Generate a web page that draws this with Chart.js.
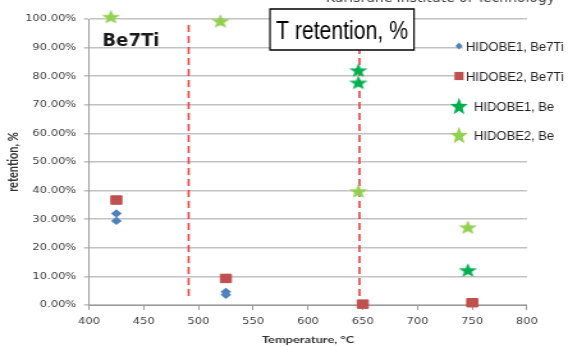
<!DOCTYPE html>
<html>
<head>
<meta charset="utf-8">
<title>T retention</title>
<script src="https://cdn.jsdelivr.net/npm/chart.js@4.4.1/dist/chart.umd.min.js"></script>
<style>
    html, body { margin: 0; padding: 0; background: #fff; }
    #wrap { position: relative; width: 568px; height: 347px; overflow: hidden; }
    /* the plot in the picture is stretched sideways, so is this canvas */
    #stretch { position: absolute; left: 0; top: 0; width: 444px; height: 347px;
               transform: scaleX(1.279279); transform-origin: 0 0; }
    canvas { display: block; }
</style>
</head>
<body>
<div id="wrap">
    <div id="stretch"><canvas id="chart" width="444" height="347"></canvas></div>
</div>
<script>
const xTicks = [400, 450, 500, 550, 600, 650, 700, 750, 800];
const yTicks = [0, 10, 20, 30, 40, 50, 60, 70, 80, 90, 100];
const dividerTemps = [491, 647];

const seriesNames = ["HIDOBE1, Be7Ti", "HIDOBE2, Be7Ti", "HIDOBE1, Be", "HIDOBE2, Be"];

const hidobe1Be7TiTemp = [425, 425, 525, 525];
const hidobe1Be7TiRet = [32.0, 29.4, 4.6, 3.6];

const hidobe2Be7TiTemp = [425, 525, 650, 750];
const hidobe2Be7TiRet = [36.7, 9.3, 0.3, 0.8];

const hidobe1BeTemp = [646, 646, 746];
const hidobe1BeRet = [82.1, 77.8, 12.2];

const hidobe2BeTemp = [420, 520, 646, 746];
const hidobe2BeRet = [100.8, 99.3, 39.8, 27.2];

const STRETCH = 568 / 444;

const BLUE = "#4f81bd";
const RED = "#c0504d";
const DARK_GREEN = "#00b050";
const LIGHT_GREEN = "#92d050";

function toPoints(xs, ys) {
    return xs.map((x, i) => ({ x: x, y: ys[i] }));
}

function starPath(g, cx, cy, R) {
    const r = R * 0.42;
    g.beginPath();
    for (let i = 0; i < 10; i++) {
        const a = -Math.PI / 2 + i * Math.PI / 5;
        const rr = i % 2 ? r : R;
        g.lineTo(cx + rr * Math.cos(a), cy + rr * Math.sin(a));
    }
    g.closePath();
}

function makeStar(color, R) {
    const size = Math.ceil(R * 2) + 2;
    const c = document.createElement("canvas");
    c.width = size;
    c.height = size;
    const g = c.getContext("2d");
    starPath(g, size / 2, size / 2 + R * 0.095, R);
    g.fillStyle = color;
    g.fill();
    return c;
}

function fitText(ctx, text, x, y, width) {
    const w = ctx.measureText(text).width;
    ctx.save();
    ctx.translate(x, y);
    ctx.scale(width / w, 1);
    ctx.fillText(text, 0, 0);
    ctx.restore();
}

function drawLegendMarker(ctx, kind, color, cx, cy) {
    ctx.fillStyle = color;
    if (kind === "diamond") {
        ctx.beginPath();
        ctx.moveTo(cx, cy - 3.4);
        ctx.lineTo(cx + 3.6, cy);
        ctx.lineTo(cx, cy + 3.4);
        ctx.lineTo(cx - 3.6, cy);
        ctx.closePath();
        ctx.fill();
    } else if (kind === "square") {
        ctx.fillRect(cx - 4.6, cy - 4.1, 9.2, 8.2);
    } else {
        starPath(ctx, cx, cy + 0.9, 9.2);
        ctx.fill();
    }
}

const overlayPlugin = {
    id: "overlay",

    beforeDatasetsDraw(chart) {
        const { ctx, scales: { x, y } } = chart;

        ctx.save();
        ctx.strokeStyle = "#f23b3b";
        ctx.lineWidth = 1.6;
        ctx.setLineDash([7, 4]);
        dividerTemps.forEach(t => {
            const px = x.getPixelForValue(t);
            ctx.beginPath();
            ctx.moveTo(px, y.getPixelForValue(97.9));
            ctx.lineTo(px, y.getPixelForValue(2.4));
            ctx.stroke();
        });
        ctx.restore();
    },

    afterDraw(chart) {
        const ctx = chart.ctx;

        ctx.save();
        // undo the sideways stretch: from here on, picture pixels
        ctx.scale(1 / STRETCH, 1);

        // header text cut by the top edge
        ctx.fillStyle = "#404040";
        ctx.font = "14px 'DejaVu Sans'";
        ctx.textBaseline = "alphabetic";
        fitText(ctx, "Karlsruhe Institute of Technology", 326, 2.2, 229);

        // title box
        ctx.fillStyle = "#fff";
        ctx.fillRect(270, 9, 144, 41);
        ctx.strokeStyle = "#000";
        ctx.lineWidth = 1.5;
        ctx.strokeRect(270, 9, 144, 41);
        ctx.fillStyle = "#000";
        ctx.font = "25px 'Liberation Sans'";
        fitText(ctx, "T retention, %", 276, 39, 132);

        // material label
        ctx.fillStyle = "#1a1a1a";
        ctx.font = "bold 18px 'DejaVu Sans'";
        ctx.fillText("Be7Ti", 102.5, 45.5);

        // legend
        const rows = [46, 76, 106, 135];
        const kinds = ["diamond", "square", "star", "star"];
        const colors = [BLUE, RED, DARK_GREEN, LIGHT_GREEN];
        const textX = [466, 466, 474, 474];

        ctx.fillStyle = "#fff";
        ctx.fillRect(463, 32, 105, 118);

        ctx.font = "13px 'Liberation Sans'";
        ctx.textBaseline = "middle";
        seriesNames.forEach((name, i) => {
            drawLegendMarker(ctx, kinds[i], colors[i], 459, rows[i]);
            ctx.fillStyle = "#222";
            ctx.fillText(name, textX[i], rows[i] + 1);
        });

        ctx.restore();
    }
};

const darkStar = makeStar(DARK_GREEN, 7.6);
const lightStar = makeStar(LIGHT_GREEN, 7.6);

new Chart(document.getElementById("chart"), {
    type: "scatter",

    data: {
        datasets: [
            {
                label: seriesNames[0],
                data: toPoints(hidobe1Be7TiTemp, hidobe1Be7TiRet),
                pointStyle: "rectRot",
                pointRadius: 4.2,
                backgroundColor: BLUE,
                borderColor: BLUE,
                borderWidth: 0,
                clip: false
            },
            {
                label: seriesNames[1],
                data: toPoints(hidobe2Be7TiTemp, hidobe2Be7TiRet),
                pointStyle: "rect",
                pointRadius: 6,
                backgroundColor: RED,
                borderColor: RED,
                borderWidth: 1,
                clip: false
            },
            {
                label: seriesNames[2],
                data: toPoints(hidobe1BeTemp, hidobe1BeRet),
                pointStyle: darkStar,
                backgroundColor: DARK_GREEN,
                clip: false
            },
            {
                label: seriesNames[3],
                data: toPoints(hidobe2BeTemp, hidobe2BeRet),
                pointStyle: lightStar,
                backgroundColor: LIGHT_GREEN,
                clip: false
            }
        ]
    },

    options: {
        responsive: false,
        animation: false,
        devicePixelRatio: 1,
        layout: {
            padding: { left: 0, right: 444 - 527 / STRETCH, top: 19, bottom: 0 }
        },
        plugins: {
            legend: { display: false },
            tooltip: { enabled: false }
        },
        scales: {
            x: {
                type: "linear",
                min: 400,
                max: 800,
                afterBuildTicks: scale => {
                    scale.ticks = xTicks.map(v => ({ value: v }));
                },
                afterFit: scale => {
                    scale.height = 42;
                },
                grid: {
                    drawOnChartArea: false,
                    drawTicks: true,
                    tickLength: 5,
                    color: "#9a9a9a",
                    lineWidth: 1
                },
                border: { color: "#9a9a9a", width: 1 },
                ticks: {
                    padding: 6,
                    color: "#404040",
                    font: { family: "DejaVu Sans", size: 9 },
                    maxRotation: 0,
                    autoSkip: false
                },
                title: {
                    display: true,
                    text: "Temperature, °C",
                    color: "#333",
                    font: { family: "Lato", size: 10, weight: "bold" },
                    padding: { top: 0, bottom: 1 }
                }
            },
            y: {
                min: 0,
                max: 100,
                afterBuildTicks: scale => {
                    scale.ticks = yTicks.map(v => ({ value: v }));
                },
                afterFit: scale => {
                    scale.width = 89 / STRETCH;
                },
                grid: {
                    color: "#c2c2c2",
                    lineWidth: 1.6,
                    drawTicks: true,
                    tickLength: 3.9
                },
                border: { color: "#9a9a9a", width: 1 },
                ticks: {
                    padding: 6,
                    color: "#404040",
                    font: { family: "DejaVu Sans", size: 9 },
                    callback: value => value.toFixed(2) + "%"
                },
                title: {
                    display: true,
                    text: "retention, %",
                    color: "#333",
                    font: { family: "Lato", size: 11, weight: "bold" },
                    padding: { top: 4, bottom: 0 }
                }
            }
        }
    },

    plugins: [overlayPlugin]
});
</script>
</body>
</html>
